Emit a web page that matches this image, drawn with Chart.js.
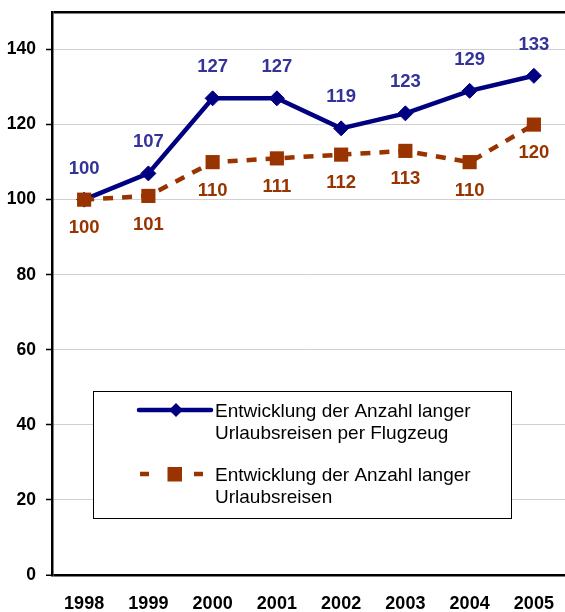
<!DOCTYPE html>
<html>
<head>
<meta charset="utf-8">
<script src="https://cdn.jsdelivr.net/npm/chart.js@4/dist/chart.umd.min.js"></script>
<style>
  html, body { margin: 0; padding: 0; background: #fff; overflow: hidden; }
  #wrap { position: relative; width: 576px; height: 612px; }
</style>
</head>
<body>
<div id="wrap"><canvas id="chart" width="576" height="612"></canvas></div>
<script>
// Index values (1998 = 100)
const years = ['1998', '1999', '2000', '2001', '2002', '2003', '2004', '2005'];
const flugreisen = [100, 107, 127, 127, 119, 123, 129, 133];
const urlaubsreisen = [100, 101, 110, 111, 112, 113, 110, 120];
const yTickValues = [0, 20, 40, 60, 80, 100, 120, 140, 150];
const flugLabel = ['Entwicklung der Anzahl langer', 'Urlaubsreisen per Flugzeug'];
const urlaubLabel = ['Entwicklung der Anzahl langer', 'Urlaubsreisen'];

const FONT = '"Liberation Sans", Arial, Helvetica, sans-serif';
const BLUE = '#000080';
const BLUE_TEXT = '#333399';
const BROWN = '#993300';

// Value labels above / below each point
const valueLabels = {
  id: 'valueLabels',
  afterDatasetsDraw(chart) {
    const ctx = chart.ctx;
    chart.data.datasets.forEach((ds, i) => {
      const meta = chart.getDatasetMeta(i);
      ctx.save();
      ctx.font = 'bold 18.5px ' + FONT;
      ctx.fillStyle = ds.valueColor;
      ctx.textAlign = 'center';
      ctx.textBaseline = 'middle';
      meta.data.forEach((pt, j) => {
        ctx.fillText(String(Math.round(ds.data[j])), pt.x, pt.y + ds.valueOffset);
      });
      ctx.restore();
    });
  }
};

// Boxed legend inside the plot area
const boxLegend = {
  id: 'boxLegend',
  afterDatasetsDraw(chart) {
    const ctx = chart.ctx;
    ctx.save();
    ctx.fillStyle = '#fff';
    ctx.fillRect(93, 391, 419, 128);
    ctx.strokeStyle = '#000';
    ctx.lineWidth = 1;
    ctx.strokeRect(93.5, 391.5, 418, 127);

    // air travel series sample
    ctx.strokeStyle = BLUE;
    ctx.lineWidth = 4.5;
    ctx.lineCap = 'round';
    ctx.beginPath();
    ctx.moveTo(139, 410);
    ctx.lineTo(211, 410);
    ctx.stroke();
    ctx.fillStyle = BLUE;
    ctx.beginPath();
    ctx.moveTo(176, 403);
    ctx.lineTo(183, 410);
    ctx.lineTo(176, 417);
    ctx.lineTo(169, 410);
    ctx.closePath();
    ctx.fill();

    // all long holidays series sample
    ctx.strokeStyle = BROWN;
    ctx.lineCap = 'butt';
    ctx.beginPath();
    ctx.moveTo(140, 474);
    ctx.lineTo(149, 474);
    ctx.moveTo(194, 474);
    ctx.lineTo(203, 474);
    ctx.stroke();
    ctx.fillStyle = BROWN;
    ctx.fillRect(167.5, 467, 14.5, 14.5);

    ctx.fillStyle = '#000';
    ctx.font = '19px ' + FONT;
    ctx.textAlign = 'left';
    ctx.textBaseline = 'middle';
    ctx.fillText(flugLabel[0], 215, 412);
    ctx.fillText(flugLabel[1], 215, 434);
    ctx.fillText(urlaubLabel[0], 215, 476);
    ctx.fillText(urlaubLabel[1], 215, 498);
    ctx.restore();
  }
};

new Chart(document.getElementById('chart'), {
  type: 'line',
  data: {
    labels: years,
    datasets: [
      {
        label: flugLabel.join(' '),
        data: flugreisen,
        order: 1,
        borderColor: BLUE,
        backgroundColor: BLUE,
        borderWidth: 4.5,
        tension: 0,
        pointStyle: 'rectRot',
        pointRadius: 7.5,
        pointBorderWidth: 1,
        pointBackgroundColor: BLUE,
        pointBorderColor: BLUE,
        valueColor: BLUE_TEXT,
        valueOffset: -31
      },
      {
        label: urlaubLabel.join(' '),
        data: urlaubsreisen,
        order: 0,
        borderColor: BROWN,
        backgroundColor: BROWN,
        borderWidth: 4.5,
        borderDash: [10, 9],
        tension: 0,
        pointStyle: 'rect',
        pointRadius: 10,
        pointBorderWidth: 0,
        pointBackgroundColor: BROWN,
        pointBorderColor: BROWN,
        valueColor: BROWN,
        valueOffset: 28.5
      }
    ]
  },
  options: {
    responsive: false,
    animation: false,
    devicePixelRatio: 1,
    layout: { padding: { top: 12, left: 0, right: 0, bottom: 0 } },
    plugins: {
      legend: { display: false },
      tooltip: { enabled: false }
    },
    scales: {
      x: {
        offset: true,
        grid: { display: false, drawTicks: false },
        border: { display: false },
        ticks: {
          color: '#000',
          font: { family: FONT, size: 18, weight: 'bold' },
          padding: 18,
          maxRotation: 0
        },
        afterFit(scale) {
          scale.height = 37;
          scale.paddingLeft = 0;
          scale.paddingRight = 0;
        }
      },
      y: {
        min: 0,
        max: 150,
        afterBuildTicks(scale) {
          scale.ticks = yTickValues.map(v => ({ value: v }));
        },
        grid: {
          color: ctx => ctx.tick && (ctx.tick.value === 150 || ctx.tick.value === 0) ? '#000' : '#d0d0d0',
          lineWidth: ctx => ctx.tick && (ctx.tick.value === 150 || ctx.tick.value === 0) ? 2.5 : 1,
          tickColor: ctx => ctx.tick && ctx.tick.value === 150 ? 'rgba(0,0,0,0)' : '#000',
          tickLength: 6,
          tickWidth: 1.5
        },
        border: { display: true, color: '#000', width: 2.5 },
        ticks: {
          color: '#000',
          font: { family: FONT, size: 17.5, weight: 'bold' },
          padding: 10,
          callback: v => (v === 150 ? '' : String(v))
        },
        afterFit(scale) {
          scale.width = 52;
          scale.paddingTop = 0;
          scale.paddingBottom = 0;
        }
      }
    }
  },
  plugins: [valueLabels, boxLegend]
});
</script>
</body>
</html>
